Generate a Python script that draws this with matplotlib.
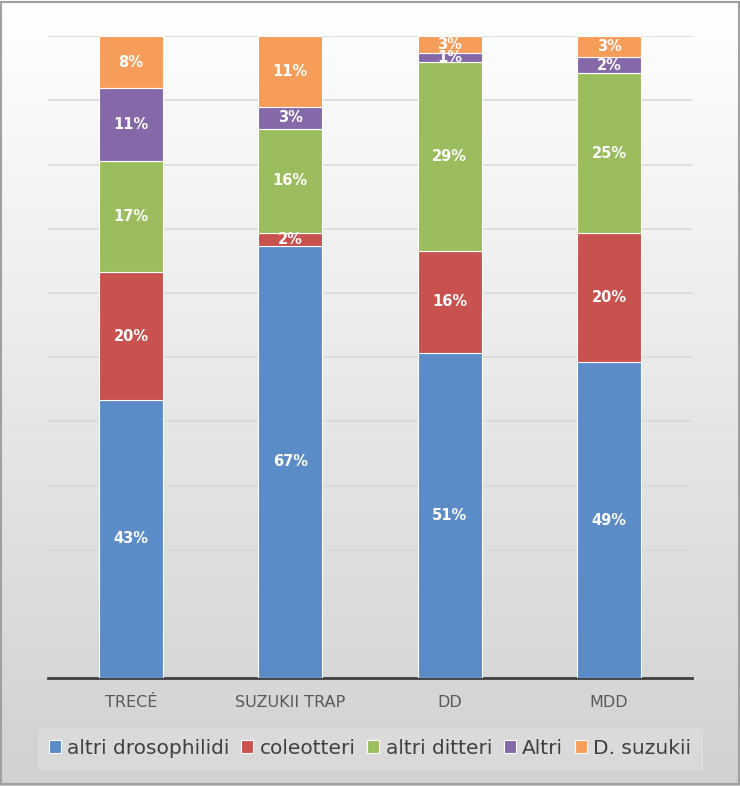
import numpy as np
import matplotlib.pyplot as plt
from matplotlib.patches import Rectangle

plt.rcParams['font.family'] = ['Liberation Sans Narrow', 'DejaVu Sans Condensed', 'DejaVu Sans']

# data (percent of catches per trap)
traps = ['TRECÉ', 'SUZUKII TRAP', 'DD', 'MDD']
series = ['altri drosophilidi', 'coleotteri', 'altri ditteri', 'Altri', 'D. suzukii']
altri_drosophilidi = [43.4, 67.4, 50.7, 49.3]
coleotteri = [19.8, 2.0, 15.9, 20.0]
altri_ditteri = [17.3, 16.2, 29.3, 25.0]
altri = [11.4, 3.4, 1.4, 2.4]
d_suzukii = [8.1, 11.0, 2.7, 3.3]

colors = ['#5B8CC8', '#C9524F', '#9CBD5E', '#8468A8', '#F79D5A']

fig = plt.figure(figsize=(7.4, 7.86), dpi=100)

# gradient background
bg = fig.add_axes([0, 0, 1, 1], zorder=-10)
grad = np.linspace(1.0, 0.0, 256).reshape(-1, 1)
top = np.array([1.0, 1.0, 1.0])
bot = np.array([0.82, 0.82, 0.82])
img = bot + (top - bot) * grad[..., None]
bg.imshow(img, aspect='auto', extent=[0, 1, 0, 1], origin='upper')
bg.add_patch(Rectangle((0.002, 0.002), 0.996, 0.996, fill=False,
                       edgecolor='#A0A0A0', lw=1.5, transform=bg.transAxes))
bg.axis('off')

ax = fig.add_axes([0.065, 0.137, 0.87, 0.817])
ax.patch.set_alpha(0)

x = np.arange(len(traps))
data = [altri_drosophilidi, coleotteri, altri_ditteri, altri, d_suzukii]
bottom = np.zeros(len(traps))
handles = []
for name, vals, c in zip(series, data, colors):
    vals = np.array(vals)
    b = ax.bar(x, vals, 0.4, bottom=bottom, color=c, edgecolor='white',
               linewidth=0.8, label=name, zorder=3)
    handles.append(b)
    for xi, v, bo in zip(x, vals, bottom):
        ax.text(xi, bo + v / 2, '%d%%' % round(v), ha='center', va='center',
                color='white', fontsize=10.5, fontweight='bold', zorder=4)
    bottom += vals

ax.set_ylim(0, 100)
ax.set_xlim(-0.52, 3.52)
ax.set_yticks(np.arange(0, 101, 10))
ax.set_yticklabels([])
ax.tick_params(axis='y', length=0)
ax.tick_params(axis='x', length=0, pad=12, labelsize=11.5, labelcolor='#595959')
ax.set_xticks(x)
ax.set_xticklabels(traps)
ax.grid(axis='y', color='#D9D9D9', lw=1.2, zorder=0)
for s in ['top', 'left', 'right']:
    ax.spines[s].set_visible(False)
ax.spines['bottom'].set_color('#404040')
ax.spines['bottom'].set_linewidth(2)

leg = fig.legend(handles=handles, loc='center', bbox_to_anchor=(0.5, 0.048),
                 ncol=5, fontsize=14.5, frameon=True, fancybox=False,
                 handlelength=0.6, handleheight=0.6, handletextpad=0.3,
                 columnspacing=0.6, borderpad=0.55)
leg.get_frame().set_facecolor('#DCDCDC')
leg.get_frame().set_edgecolor('#DCDCDC')
for t in leg.get_texts():
    t.set_color('#404040')

fig.savefig('out.png', dpi=100)
